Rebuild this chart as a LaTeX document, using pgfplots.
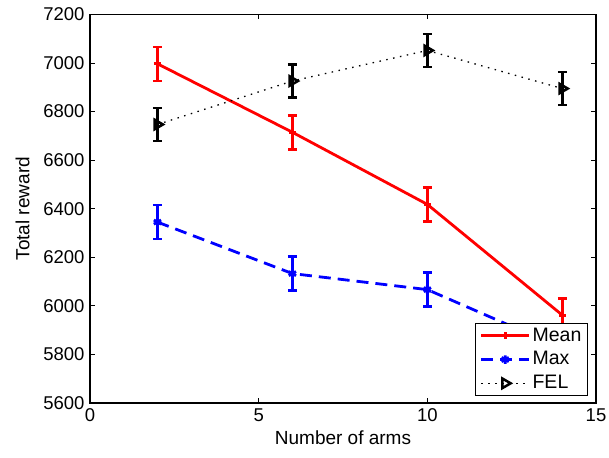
\documentclass[border=0pt]{standalone}
\usepackage{fontspec}
\setmainfont{Liberation Sans}
\usepackage{pgfplots}
\pgfplotsset{compat=1.18}

\begin{document}
\fontsize{19}{22}\selectfont
\begin{tikzpicture}
\begin{axis}[
    name=ax,
    scale only axis,
    width=506pt, height=388.5pt,
    xmin=0, xmax=15, ymin=5600, ymax=7200,
    xtick={0,5,10,15},
    ytick={5600,5800,6000,6200,6400,6600,6800,7000,7200},
    scaled y ticks=false,
    tick align=inside,
    major tick length=5pt,
    axis line style={line width=1.3pt},
    every tick/.style={black, line width=0.9pt},
    xlabel={Number of arms},
    ylabel={Total reward},
    /pgf/number format/assume math mode=true,
    /pgf/number format/1000 sep={},
    tick label style={font=\fontsize{18.5}{22}\selectfont},
    label style={font=\fontsize{19}{22}\selectfont},
    xticklabel style={yshift=1pt},
    yticklabel style={xshift=1pt},
    xlabel style={yshift=4pt},
    ylabel style={yshift=1pt},
    legend style={at={(0.984,0.018)}, anchor=south east, draw=black,
        line width=1.1pt, font=\fontsize{19.5}{22}\selectfont,
        inner xsep=4pt, inner ysep=2pt, row sep=3.5pt},
    legend cell align=left,
    legend image code/.code={
        \draw[mark repeat=2, mark phase=2] plot coordinates {(0pt,0pt) (24pt,0pt) (48pt,0pt)};
    },
]
\addplot[red, line width=2.8pt, mark=+, mark size=3.5pt,
    error bars/.cd, y dir=both, y explicit,
    error bar style={line width=2.5pt, solid},
    error mark options={rotate=90, line width=2.5pt, mark size=4.5pt, solid}]
coordinates {
    (2, 6997) +- (0, 70)
    (6, 6715) +- (0, 70)
    (10, 6418) +- (0, 70)
    (14, 5962) +- (0, 68)
};
\addlegendentry{Mean}

\addplot[blue, line width=2.8pt, dash pattern=on 12pt off 7pt,
    mark=asterisk, mark size=4.2pt, mark options={solid, line width=2.8pt},
    error bars/.cd, y dir=both, y explicit,
    error bar style={line width=2.5pt, solid},
    error mark options={rotate=90, line width=2.5pt, mark size=4.5pt, solid}]
coordinates {
    (2, 6345) +- (0, 70)
    (6, 6133) +- (0, 70)
    (10, 6067) +- (0, 70)
    (14, 5825) +- (0, 70)
};
\addlegendentry{Max}

\addplot[black, line width=1.3pt, dash pattern=on 1.5pt off 5.5pt,
    mark=triangle, mark size=5.5pt,
    mark options={solid, rotate=-90, fill=white, line width=2.5pt},
    error bars/.cd, y dir=both, y explicit,
    error bar style={line width=2.5pt, solid},
    error mark options={rotate=90, line width=2.5pt, mark size=4.5pt, solid}]
coordinates {
    (2, 6747) +- (0, 68)
    (6, 6926) +- (0, 68)
    (10, 7052) +- (0, 68)
    (14, 6895) +- (0, 68)
};
\addlegendentry{FEL}
\end{axis}
\pgfresetboundingbox
\useasboundingbox (ax.south west) ++(-90pt,-54pt) rectangle ++(609pt,457pt);
\end{tikzpicture}
\end{document}
